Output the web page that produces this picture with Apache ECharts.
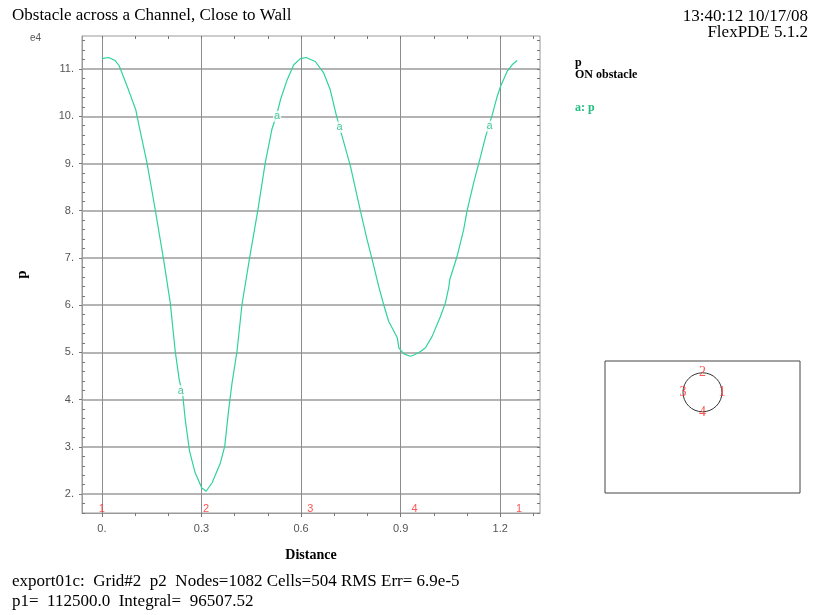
<!DOCTYPE html>
<html>
<head>
<meta charset="utf-8">
<script src="https://cdn.jsdelivr.net/npm/echarts@6/dist/echarts.min.js"></script>
<style>
  html, body { margin: 0; padding: 0; background: #fff; }
  #chart { width: 820px; height: 615px; }
</style>
</head>
<body>
<div id="chart"></div>
<script>
// Pressure p (in units of 1e4) along the obstacle boundary, by arc distance
const distance = [0, 0.02, 0.04, 0.052, 0.08, 0.102, 0.108, 0.136, 0.159, 0.186,
  0.206, 0.221, 0.233, 0.243, 0.251, 0.264, 0.281, 0.301, 0.314, 0.332,
  0.357, 0.37, 0.382, 0.392, 0.407, 0.422, 0.444, 0.470, 0.492, 0.512,
  0.528, 0.538, 0.558, 0.578, 0.598, 0.615, 0.643, 0.668, 0.688, 0.706,
  0.724, 0.749, 0.779, 0.799, 0.817, 0.834, 0.849, 0.864, 0.890, 0.895,
  0.910, 0.929, 0.939, 0.960, 0.975, 0.995, 1.020, 1.035, 1.045, 1.048,
  1.070, 1.090, 1.100, 1.120, 1.141, 1.156, 1.176, 1.191, 1.201, 1.221,
  1.236, 1.251];
const pressure = [11.22, 11.245, 11.18, 11.07, 10.56, 10.14, 9.93, 9.01, 8.09, 6.96,
  6.05, 5.02, 4.42, 4.14, 3.58, 2.91, 2.45, 2.13, 2.06, 2.24,
  2.66, 3.01, 3.79, 4.35, 5.02, 6.01, 6.96, 8.02, 9.01, 9.72,
  10.07, 10.35, 10.77, 11.09, 11.22, 11.245, 11.16, 10.92, 10.56, 10.03,
  9.57, 8.94, 7.99, 7.39, 6.89, 6.40, 6.01, 5.66, 5.31, 5.09,
  4.97, 4.92, 4.94, 5.02, 5.10, 5.34, 5.76, 6.05, 6.37, 6.54,
  7.03, 7.60, 7.99, 8.59, 9.15, 9.57, 10.03, 10.42, 10.63, 10.95,
  11.09, 11.18];

// Curve tags "a" placed along the line
const tagDistance = [0.238, 0.528, 0.716, 1.168];
const tagPressure = [4.19, 10.0, 9.77, 9.79];

// Boundary station markers (arc distance of the numbered points)
const stationDistance = [0, 0.314, 0.628, 0.942, 1.257];
const stationName = ['1', '2', '3', '4', '1'];
const stationLevel = 1.68;

// Axis ticks
const xMajor = [0, 0.3, 0.6, 0.9, 1.2];
const yMajor = [2, 3, 4, 5, 6, 7, 8, 9, 10, 11];
const xMinor = [];
for (let i = 1; i <= 13; i++) { if (i % 3 !== 0) xMinor.push(+(i * 0.1).toFixed(1)); }
const yMinor = [];
for (let i = 8; i <= 58; i++) { if (i % 5 !== 0) yMinor.push(+(i * 0.2).toFixed(1)); }
const xAll = xMajor.concat(xMinor);
const yAll = yMajor.concat(yMinor);

// Domain sketch: channel window with the circular obstacle
const obstacle = [[0, 0, 0.2]];
const obstacleStations = [[0.2, 0], [0, 0.2], [-0.2, 0], [0, -0.2]];
const obstacleStationName = ['1', '2', '3', '4'];

const LINE = '#2fd39a';
const RED = '#ff2a2a';
const SERIF = '"Liberation Serif", "Times New Roman", serif';
const SANS = '"Liberation Sans", Arial, sans-serif';

const fmt = v => {
  const r = Math.round(v * 10) / 10;
  return Number.isInteger(r) ? r + '.' : String(r);
};

const X0 = { min: -0.06, max: 1.32 };
const Y0 = { min: 1.6, max: 11.7 };
const TICK = { color: '#777' };

const chart = echarts.init(document.getElementById('chart'), null, { renderer: 'canvas' });

chart.setOption({
  animation: false,
  backgroundColor: '#fff',
  grid: [
    { left: 82, top: 36, width: 458, height: 477, show: true, borderColor: '#9a9a9a', borderWidth: 1, backgroundColor: 'transparent' },
    { left: 605, top: 361, width: 195, height: 132, show: true, borderColor: '#444', borderWidth: 1, backgroundColor: 'transparent' }
  ],
  xAxis: [
    {
      type: 'value', gridIndex: 0, position: 'bottom', min: X0.min, max: X0.max,
      name: 'Distance', nameLocation: 'middle', nameGap: 35,
      nameTextStyle: { fontFamily: SERIF, fontWeight: 'bold', fontSize: 14, color: '#000' },
      axisLine: { show: true, onZero: false, lineStyle: { color: '#9a9a9a', width: 1 } },
      axisTick: { show: true, inside: false, length: 4, customValues: xMajor, lineStyle: TICK },
      axisLabel: { customValues: xMajor, formatter: fmt, margin: 10, fontFamily: SANS, fontSize: 11, color: '#555' },
      splitLine: { show: true, lineStyle: { color: '#8c8c8c', width: 1 } }
    },
    {
      type: 'value', gridIndex: 0, position: 'bottom', min: X0.min, max: X0.max,
      axisLine: { show: false, onZero: false },
      axisTick: { show: true, inside: false, length: 3, customValues: xMinor, lineStyle: TICK },
      axisLabel: { show: false },
      splitLine: { show: false }
    },
    {
      type: 'value', gridIndex: 0, position: 'top', min: X0.min, max: X0.max,
      axisLine: { show: false, onZero: false },
      axisTick: { show: true, inside: true, length: 3, customValues: xAll, lineStyle: TICK },
      axisLabel: { show: false },
      splitLine: { show: false }
    },
    { type: 'value', gridIndex: 1, min: -1, max: 1, show: false }
  ],
  yAxis: [
    {
      type: 'value', gridIndex: 0, position: 'left', min: Y0.min, max: Y0.max,
      name: 'p', nameLocation: 'middle', nameGap: 52, nameRotate: 90,
      nameTextStyle: { fontFamily: SERIF, fontWeight: 'bold', fontSize: 15, color: '#000' },
      axisLine: { show: true, onZero: false, lineStyle: { color: '#9a9a9a', width: 1 } },
      axisTick: { show: true, inside: false, length: 3, customValues: yMajor, lineStyle: TICK },
      axisLabel: { customValues: yMajor, formatter: fmt, margin: 8, fontFamily: SANS, fontSize: 11, color: '#555' },
      splitLine: { show: true, lineStyle: { color: '#b4b4b4', width: 2 } }
    },
    {
      type: 'value', gridIndex: 0, position: 'left', min: Y0.min, max: Y0.max,
      axisLine: { show: false, onZero: false },
      axisTick: { show: true, inside: true, length: 3, customValues: yMinor, lineStyle: TICK },
      axisLabel: { show: false },
      splitLine: { show: false }
    },
    {
      type: 'value', gridIndex: 0, position: 'right', min: Y0.min, max: Y0.max,
      axisLine: { show: false, onZero: false },
      axisTick: { show: true, inside: true, length: 3, customValues: yAll, lineStyle: TICK },
      axisLabel: { show: false },
      splitLine: { show: false }
    },
    { type: 'value', gridIndex: 1, min: -1.03, max: 0.32, show: false }
  ],
  graphic: [
    { type: 'text', left: 12, top: 7, style: { text: 'Obstacle across a Channel, Close to Wall', font: '17px ' + SERIF, fill: '#000' } },
    { type: 'text', right: 12, top: 8, style: { text: '13:40:12 10/17/08', font: '17px ' + SERIF, fill: '#000', textAlign: 'right' } },
    { type: 'text', right: 12, top: 24, style: { text: 'FlexPDE 5.1.2', font: '17px ' + SERIF, fill: '#000', textAlign: 'right' } },
    { type: 'text', left: 30, top: 33, style: { text: 'e4', font: '10px ' + SANS, fill: '#555' } },
    { type: 'text', left: 575, top: 57, style: { text: 'p', font: 'bold 12px ' + SERIF, fill: '#000' } },
    { type: 'text', left: 575, top: 69, style: { text: 'ON obstacle', font: 'bold 12px ' + SERIF, fill: '#000' } },
    { type: 'text', left: 575, top: 102, style: { text: 'a: p', font: 'bold 12px ' + SERIF, fill: '#20c080' } },
    { type: 'text', left: 12, top: 573, style: { text: 'export01c:  Grid#2  p2  Nodes=1082 Cells=504 RMS Err= 6.9e-5', font: '17px ' + SERIF, fill: '#000' } },
    { type: 'text', left: 12, top: 593, style: { text: 'p1=  112500.0  Integral=  96507.52', font: '17px ' + SERIF, fill: '#000' } }
  ],
  series: [
    {
      name: 'p', type: 'line', xAxisIndex: 0, yAxisIndex: 0,
      data: distance.map((d, i) => [d, pressure[i]]),
      showSymbol: false, symbol: 'none', smooth: false,
      lineStyle: { color: LINE, width: 1.2 }, z: 3
    },
    {
      name: 'tags', type: 'scatter', xAxisIndex: 0, yAxisIndex: 0,
      data: tagDistance.map((d, i) => [d, tagPressure[i]]),
      symbolSize: 1, itemStyle: { color: 'transparent' },
      label: { show: true, position: 'inside', formatter: 'a', color: '#22bb88', fontFamily: SANS, fontSize: 11, backgroundColor: '#fff', padding: [0, 1] },
      z: 4
    },
    {
      name: 'stations', type: 'scatter', xAxisIndex: 0, yAxisIndex: 0,
      data: stationDistance.map((d, i) => ({ value: [d, stationLevel], name: stationName[i] })),
      symbolSize: 1, itemStyle: { color: 'transparent' },
      label: { show: true, position: 'inside', formatter: p => p.name, color: RED, fontFamily: SANS, fontSize: 11 },
      z: 4
    },
    {
      name: 'obstacle', type: 'custom', xAxisIndex: 3, yAxisIndex: 3,
      data: obstacle,
      renderItem: (params, api) => {
        const c = api.coord([api.value(0), api.value(1)]);
        const s = api.size([api.value(2), api.value(2)]);
        return { type: 'circle', shape: { cx: c[0], cy: c[1], r: s[0] }, style: { fill: 'none', stroke: '#333', lineWidth: 1 } };
      },
      silent: true
    },
    {
      name: 'obstacleStations', type: 'scatter', xAxisIndex: 3, yAxisIndex: 3,
      data: obstacleStations.map((p, i) => ({ value: p, name: obstacleStationName[i] })),
      symbolSize: 1, itemStyle: { color: 'transparent' },
      label: { show: true, position: 'inside', formatter: p => p.name, color: RED, fontFamily: SERIF, fontSize: 14 },
      z: 5
    }
  ]
});
</script>
</body>
</html>
